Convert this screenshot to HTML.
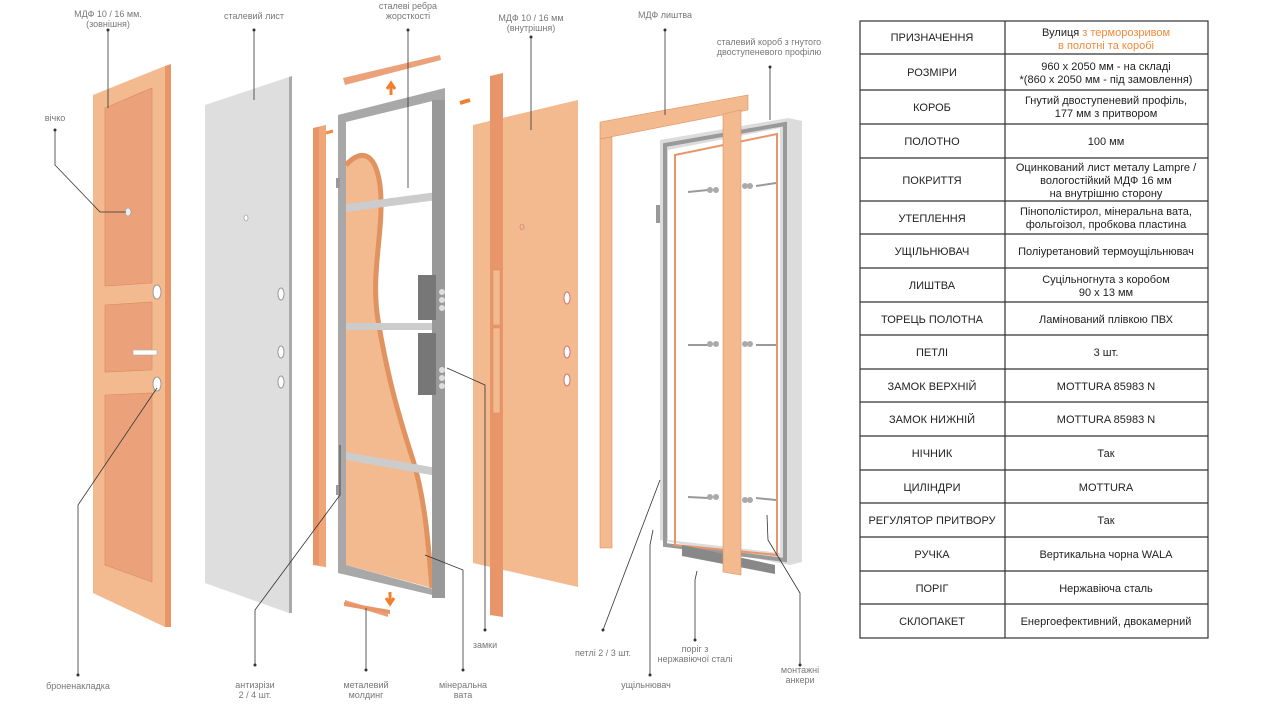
<!DOCTYPE html>
<html><head><meta charset="utf-8"><style>
html,body{margin:0;padding:0;background:#fff;width:1283px;height:727px;overflow:hidden}
svg{display:block}
text{font-family:"Liberation Sans",sans-serif}
.l{font-size:9px;fill:#777;text-anchor:middle}
.t{font-size:11px;fill:#222;text-anchor:middle}
.ln{stroke:#333;stroke-width:0.8;fill:none}
</style></head><body>
<svg width="1283" height="727" viewBox="0 0 1283 727" xmlns="http://www.w3.org/2000/svg">
<!-- Door 1 outer MDF -->
<polygon points="93,95 165,66 165,627 93,593" fill="#f3b98f"/>
<polygon points="165,66 171,64 171,627 165,627" fill="#e8956a"/>
<polygon points="105,108 152,88 152,283 105,286" fill="#eba27a" stroke="#d98a60" stroke-width="0.6"/>
<polygon points="105,305 152,302 152,370 105,372" fill="#eba27a" stroke="#d98a60" stroke-width="0.6"/>
<polygon points="105,395 152,393 152,582 105,565" fill="#eba27a" stroke="#d98a60" stroke-width="0.6"/>
<ellipse cx="128" cy="212" rx="3" ry="4" fill="#eee" stroke="#999" stroke-width="0.6"/>
<ellipse cx="157" cy="292" rx="4" ry="7" fill="#fff" stroke="#999"/>
<ellipse cx="157" cy="384" rx="4" ry="7" fill="#fff" stroke="#999"/>
<rect x="133" y="350" width="24" height="5" fill="#fff" stroke="#aaa" stroke-width="0.6"/>
<!-- Steel sheet -->
<polygon points="205,105 289,77 289,613 205,583" fill="#dedede"/>
<polygon points="289,77 292,76 292,613 289,613" fill="#aaa"/>
<ellipse cx="246" cy="218" rx="2" ry="3" fill="#fff" stroke="#888" stroke-width="0.6"/>
<ellipse cx="281" cy="294" rx="3" ry="6" fill="#fff" stroke="#999"/>
<ellipse cx="281" cy="352" rx="3" ry="6" fill="#fff" stroke="#999"/>
<ellipse cx="281" cy="382" rx="3" ry="6" fill="#fff" stroke="#999"/>
<!-- strip -->
<polygon points="313,128 326,125 326,567 313,565" fill="#e8956a"/>
<polygon points="319,127 326,125 326,567 319,566" fill="#f0a678"/>
<path d="M326,133 l7,-2" stroke="#f08a4a" stroke-width="3"/>
<!-- top strip -->
<polygon points="343,78 440,55 441,60 345,85" fill="#eba27a"/>
<path d="M391,95 v-10 M387,89 l4,-6 l4,6" stroke="#f08030" stroke-width="3" fill="none"/>
<!-- frame with insulation -->
<polygon points="338,115 445,88 445,598 338,573" fill="#a8a8a8"/>
<polygon points="346,122 437,100 437,590 346,565" fill="#fff"/>
<path d="M346,165 C360,150 375,150 380,185 C385,230 370,270 378,320 C388,380 400,420 413,460 C425,500 428,540 432,588 L346,565 Z" fill="#f3b98f"/>
<path d="M346,165 C360,150 375,150 380,185 C385,230 370,270 378,320 C388,380 400,420 413,460 C425,500 428,540 432,588" stroke="#e0925f" stroke-width="5" fill="none"/>
<polygon points="346,204 437,192 437,200 346,212" fill="#ccc"/>
<polygon points="346,323 437,323 437,330 346,330" fill="#ccc"/>
<polygon points="346,452 437,468 437,476 346,460" fill="#ccc"/>
<rect x="432" y="100" width="13" height="498" fill="#999"/>
<rect x="418" y="275" width="18" height="45" fill="#777"/>
<rect x="418" y="333" width="18" height="62" fill="#777"/>
<circle cx="442" cy="292" r="3" fill="#ddd"/><circle cx="442" cy="300" r="3" fill="#ddd"/><circle cx="442" cy="308" r="3" fill="#ddd"/>
<circle cx="442" cy="370" r="3" fill="#ddd"/><circle cx="442" cy="378" r="3" fill="#ddd"/><circle cx="442" cy="386" r="3" fill="#ddd"/>
<rect x="336" y="178" width="4" height="10" fill="#999"/>
<rect x="336" y="485" width="4" height="10" fill="#999"/>
<!-- bottom strip -->
<polygon points="345,600 388,613 388,617 345,604" fill="#eba27a"/>
<polygon points="344,602 390,610 390,614 344,606" fill="#e8956a"/>
<path d="M390,592 v10 M386,598 l4,6 l4,-6" stroke="#f08030" stroke-width="3" fill="none"/>
<path d="M460,103 l10,-3" stroke="#f08030" stroke-width="4"/>
<!-- inner door -->
<polygon points="473,125 578,100 578,587 473,563" fill="#f3b98f"/>
<polygon points="490,76 503,73 503,617 490,615" fill="#e8956a"/>
<rect x="493" y="270" width="7" height="55" fill="#f3b98f" stroke="#d98a60" stroke-width="0.5"/>
<rect x="493" y="328" width="7" height="85" fill="#f3b98f" stroke="#d98a60" stroke-width="0.5"/>
<ellipse cx="522" cy="227" rx="2" ry="3" fill="#f3b98f" stroke="#c77" stroke-width="0.6"/>
<ellipse cx="567" cy="298" rx="3" ry="6" fill="#fff" stroke="#c77"/>
<ellipse cx="567" cy="352" rx="3" ry="6" fill="#fff" stroke="#c77"/>
<ellipse cx="567" cy="380" rx="3" ry="6" fill="#fff" stroke="#c77"/>
<!-- steel box frame -->
<polygon points="660,140 788,118 802,121 802,562 790,565 660,540" fill="#dcdcdc"/>
<polygon points="668,150 780,128 780,553 668,540" fill="#fff"/>
<polygon points="665,145 785,124 785,560 665,545" fill="none" stroke="#999" stroke-width="4"/>
<polygon points="675,155 777,134 777,555 675,545" fill="none" stroke="#e8956a" stroke-width="2"/>
<polygon points="682,545 775,565 775,574 682,556" fill="#888"/>
<rect x="656" y="205" width="4" height="18" fill="#999"/>
<!-- anchors -->
<g stroke="#999" stroke-width="2">
<path d="M688,192 l20,-2 M756,186 l20,-3 M688,345 l20,0 M756,345 l20,0 M688,497 l20,1 M756,498 l20,2"/>
</g>
<g fill="#aaa"><circle cx="710" cy="190" r="3"/><circle cx="716" cy="190" r="3"/><circle cx="745" cy="186" r="3"/><circle cx="750" cy="186" r="3"/>
<circle cx="710" cy="344" r="3"/><circle cx="716" cy="344" r="3"/><circle cx="745" cy="344" r="3"/><circle cx="750" cy="344" r="3"/>
<circle cx="710" cy="497" r="3"/><circle cx="716" cy="497" r="3"/><circle cx="745" cy="500" r="3"/><circle cx="750" cy="500" r="3"/></g>
<!-- lishtva -->
<polygon points="600,122 748,95 748,110 600,139" fill="#f3b98f" stroke="#e0925f" stroke-width="0.6"/>
<polygon points="600,139 612,137 612,548 600,548" fill="#f3b98f" stroke="#e0925f" stroke-width="0.6"/>
<polygon points="723,114 741,110 741,575 723,572" fill="#f3b98f" stroke="#e0925f" stroke-width="0.6"/>
<!-- leader lines -->
<g class="ln">
<path d="M108,30 V108"/><path d="M55,130 V165 L100,212 H126"/>
<path d="M254,30 V100"/><path d="M408,30 V188"/><path d="M531,37 V130"/>
<path d="M665,30 V115"/><path d="M770,67 V120"/>
<path d="M157,388 L78,505 V675"/>
<path d="M340,445 V495 L255,610 V665"/>
<path d="M366,608 V670"/>
<path d="M425,555 L463,570 V670"/>
<path d="M447,368 L485,385 V630"/>
<path d="M660,480 L603,630"/>
<path d="M653,530 L650,545 V675"/>
<path d="M697,571 L695,580 V640"/>
<path d="M767,515 L768,540 L800,593 V665"/>
</g>
<g fill="#333"><circle cx="108" cy="30" r="1.5"/><circle cx="55" cy="130" r="1.5"/><circle cx="254" cy="30" r="1.5"/><circle cx="408" cy="30" r="1.5"/><circle cx="531" cy="37" r="1.5"/><circle cx="665" cy="30" r="1.5"/><circle cx="770" cy="67" r="1.5"/><circle cx="78" cy="675" r="1.5"/><circle cx="255" cy="665" r="1.5"/><circle cx="366" cy="670" r="1.5"/><circle cx="463" cy="670" r="1.5"/><circle cx="485" cy="630" r="1.5"/><circle cx="603" cy="630" r="1.5"/><circle cx="650" cy="675" r="1.5"/><circle cx="695" cy="640" r="1.5"/><circle cx="800" cy="665" r="1.5"/></g>
<!-- labels -->
<text class="l" x="108" y="17">МДФ 10 / 16 мм.</text><text class="l" x="108" y="27">(зовнішня)</text>
<text class="l" x="55" y="121">вічко</text>
<text class="l" x="254" y="19">сталевий лист</text>
<text class="l" x="408" y="9">сталеві ребра</text><text class="l" x="408" y="19">жорсткості</text>
<text class="l" x="531" y="21">МДФ 10 / 16 мм</text><text class="l" x="531" y="31">(внутрішня)</text>
<text class="l" x="665" y="18">МДФ лиштва</text>
<text class="l" x="769" y="45">сталевий короб з гнутого</text><text class="l" x="769" y="55">двоступеневого профілю</text>
<text class="l" x="78" y="689">броненакладка</text>
<text class="l" x="255" y="688">антизрізи</text><text class="l" x="255" y="698">2 / 4 шт.</text>
<text class="l" x="366" y="688">металевий</text><text class="l" x="366" y="698">молдинг</text>
<text class="l" x="463" y="688">мінеральна</text><text class="l" x="463" y="698">вата</text>
<text class="l" x="485" y="648">замки</text>
<text class="l" x="603" y="656">петлі 2 / 3 шт.</text>
<text class="l" x="695" y="652">поріг з</text><text class="l" x="695" y="662">нержавіючої сталі</text>
<text class="l" x="646" y="688">ущільнювач</text>
<text class="l" x="800" y="673">монтажні</text><text class="l" x="800" y="683">анкери</text>
<!-- table -->
<g stroke="#333" stroke-width="1.2" fill="none">
<rect x="860" y="21" width="348" height="617"/>
<path d="M1005,21 V638"/>
<path d="M860,54 H1208 M860,90 H1208 M860,124 H1208 M860,158 H1208 M860,201 H1208 M860,234 H1208 M860,268 H1208 M860,302 H1208 M860,335 H1208 M860,369 H1208 M860,402 H1208 M860,436 H1208 M860,470 H1208 M860,503 H1208 M860,537 H1208 M860,571 H1208 M860,604 H1208"/>
</g>
<g class="t">
<text x="932" y="41">ПРИЗНАЧЕННЯ</text>
<text x="1106" y="36">Вулиця <tspan fill="#f08a3c">з терморозривом</tspan></text><text x="1106" y="49" fill="#f08a3c">в полотні та коробі</text>
<text x="932" y="76">РОЗМІРИ</text>
<text x="1106" y="70">960 х 2050 мм - на складі</text><text x="1106" y="83">*(860 х 2050 мм - під замовлення)</text>
<text x="932" y="111">КОРОБ</text>
<text x="1106" y="104">Гнутий двоступеневий профіль,</text><text x="1106" y="117">177 мм з притвором</text>
<text x="932" y="145">ПОЛОТНО</text><text x="1106" y="145">100 мм</text>
<text x="932" y="184">ПОКРИТТЯ</text>
<text x="1106" y="171">Оцинкований лист металу Lampre /</text><text x="1106" y="184">вологостійкий МДФ 16 мм</text><text x="1106" y="197">на внутрішню сторону</text>
<text x="932" y="222">УТЕПЛЕННЯ</text>
<text x="1106" y="215">Пінополістирол, мінеральна вата,</text><text x="1106" y="228">фольгоізол, пробкова пластина</text>
<text x="932" y="255">УЩІЛЬНЮВАЧ</text><text x="1106" y="255">Поліуретановий термоущільнювач</text>
<text x="932" y="289">ЛИШТВА</text>
<text x="1106" y="283">Суцільногнута з коробом</text><text x="1106" y="296">90 х 13 мм</text>
<text x="932" y="323">ТОРЕЦЬ ПОЛОТНА</text><text x="1106" y="323">Ламінований плівкою ПВХ</text>
<text x="932" y="356">ПЕТЛІ</text><text x="1106" y="356">3 шт.</text>
<text x="932" y="390">ЗАМОК ВЕРХНІЙ</text><text x="1106" y="390">MOTTURA 85983 N</text>
<text x="932" y="423">ЗАМОК НИЖНІЙ</text><text x="1106" y="423">MOTTURA 85983 N</text>
<text x="932" y="457">НІЧНИК</text><text x="1106" y="457">Так</text>
<text x="932" y="491">ЦИЛІНДРИ</text><text x="1106" y="491">MOTTURA</text>
<text x="932" y="524">РЕГУЛЯТОР ПРИТВОРУ</text><text x="1106" y="524">Так</text>
<text x="932" y="558">РУЧКА</text><text x="1106" y="558">Вертикальна чорна WALA</text>
<text x="932" y="592">ПОРІГ</text><text x="1106" y="592">Нержавіюча сталь</text>
<text x="932" y="625">СКЛОПАКЕТ</text><text x="1106" y="625">Енергоефективний, двокамерний</text>
</g>
</svg>
</body></html>
